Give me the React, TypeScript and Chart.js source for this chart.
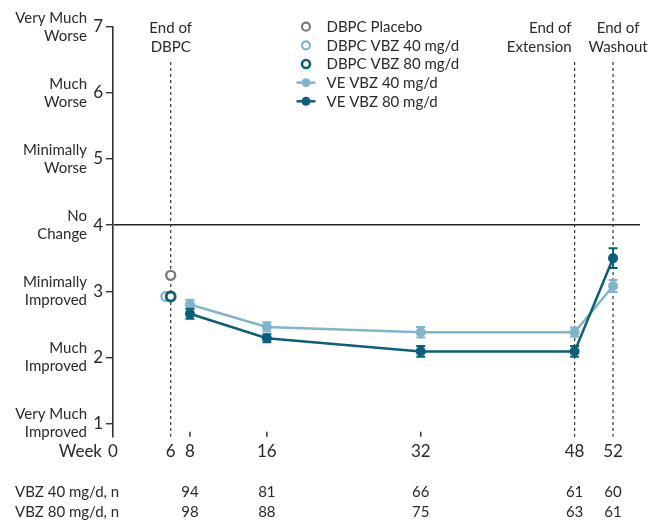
import React, { useEffect, useRef } from "react";
import { Chart, registerables } from "chart.js";

Chart.register(...registerables);

// ---- data ----
const xTickWeeks = [0, 6, 8, 16, 32, 48, 52];
const yTickValues = [1, 2, 3, 4, 5, 6, 7];
const yCategoryLabels = [
  ["Very Much", "Improved"],
  ["Much", "Improved"],
  ["Minimally", "Improved"],
  ["No", "Change"],
  ["Minimally", "Worse"],
  ["Much", "Worse"],
  ["Very Much", "Worse"],
];

const dbpcPlacebo = [{ x: 6, y: 3.24 }];
const dbpcVbz40 = [{ x: 5.5, y: 2.92 }];
const dbpcVbz80 = [{ x: 6, y: 2.92 }];

const veWeeks = [8, 16, 32, 48, 52];
const ve40 = [2.8, 2.46, 2.38, 2.38, 3.08];
const ve40Err = [0.07, 0.07, 0.08, 0.07, 0.09];
const ve80 = [2.66, 2.29, 2.09, 2.09, 3.5];
const ve80Err = [0.075, 0.06, 0.08, 0.08, 0.15];

const nWeeks = [8, 16, 32, 48, 52];
const nRowLabels = ["VBZ 40 mg/d, n", "VBZ 80 mg/d, n"];
const n40 = [94, 81, 66, 61, 60];
const n80 = [98, 88, 75, 63, 61];

const markerWeeks = [6, 48, 52];
const markerLabels = [
  ["End of", "DBPC"],
  ["End of", "Extension"],
  ["End of", "Washout"],
];

const seriesLabels = [
  "DBPC Placebo",
  "DBPC VBZ 40 mg/d",
  "DBPC VBZ 80 mg/d",
  "VE VBZ 40 mg/d",
  "VE VBZ 80 mg/d",
];

// ---- style ----
const FONT = "Lato";
const TEXT = "#2a2a2a";
const GRAY = "#7a7a7a";
const LIGHT = "#82b4cc";
const DARK = "#0c5f78";

const overlay = {
  id: "overlay",
  beforeDatasetsDraw(chart: any) {
    const { ctx, chartArea, scales } = chart;
    const xs = scales.x;
    ctx.save();
    ctx.strokeStyle = "#333";
    ctx.lineWidth = 1.2;
    ctx.setLineDash([3, 3]);
    markerWeeks.forEach((w) => {
      const px = xs.getPixelForValue(w);
      ctx.beginPath();
      ctx.moveTo(px, 62);
      ctx.lineTo(px, chartArea.bottom);
      ctx.stroke();
    });
    ctx.setLineDash([]);
    ctx.lineWidth = 1.5;
    xTickWeeks.forEach((w) => {
      if (w === 0 || markerWeeks.includes(w)) return;
      const px = xs.getPixelForValue(w);
      ctx.beginPath();
      ctx.moveTo(px, chartArea.bottom - 5);
      ctx.lineTo(px, chartArea.bottom);
      ctx.stroke();
    });
    ctx.restore();
  },
  afterDatasetsDraw(chart: any) {
    const { ctx, scales } = chart;
    const xs = scales.x;
    const ys = scales.y;
    ctx.save();
    const drawErr = (vals: number[], errs: number[], color: string) => {
      ctx.strokeStyle = color;
      ctx.lineWidth = 2;
      vals.forEach((v, i) => {
        const px = xs.getPixelForValue(veWeeks[i]);
        const top = ys.getPixelForValue(v + errs[i]);
        const bot = ys.getPixelForValue(v - errs[i]);
        ctx.beginPath();
        ctx.moveTo(px, top);
        ctx.lineTo(px, bot);
        ctx.moveTo(px - 4.5, top);
        ctx.lineTo(px + 4.5, top);
        ctx.moveTo(px - 4.5, bot);
        ctx.lineTo(px + 4.5, bot);
        ctx.stroke();
      });
    };
    drawErr(ve40, ve40Err, LIGHT);
    drawErr(ve80, ve80Err, DARK);
    ctx.restore();
  },
  afterDraw(chart: any) {
    const { ctx, scales } = chart;
    const xs = scales.x;
    ctx.save();
    ctx.fillStyle = TEXT;
    ctx.textBaseline = "middle";

    ctx.font = `15px ${FONT}`;
    const aligns: CanvasTextAlign[] = ["center", "right", "center"];
    const dxs = [0, -3, 5];
    markerLabels.forEach((lines, i) => {
      const px = xs.getPixelForValue(markerWeeks[i]) + dxs[i];
      ctx.textAlign = aligns[i];
      lines.forEach((t, j) => ctx.fillText(t, px, 28.5 + j * 19));
    });

    const colors = [GRAY, LIGHT, DARK, LIGHT, DARK];
    ctx.textAlign = "left";
    ctx.font = `15px ${FONT}`;
    seriesLabels.forEach((lab, i) => {
      const y = 26.7 + i * 18.65;
      const cx = 306;
      if (i < 3) {
        ctx.beginPath();
        ctx.arc(cx, y, 4, 0, Math.PI * 2);
        ctx.fillStyle = "#fff";
        ctx.fill();
        ctx.lineWidth = i === 2 ? 2.6 : 2.2;
        ctx.strokeStyle = colors[i];
        ctx.stroke();
      } else {
        ctx.strokeStyle = colors[i];
        ctx.lineWidth = 2.5;
        ctx.beginPath();
        ctx.moveTo(cx - 9.5, y);
        ctx.lineTo(cx + 9.5, y);
        ctx.stroke();
        ctx.beginPath();
        ctx.arc(cx, y, 4.5, 0, Math.PI * 2);
        ctx.fillStyle = colors[i];
        ctx.fill();
      }
      ctx.fillStyle = TEXT;
      ctx.fillText(lab, 326.5, y + 0.5);
    });

    ctx.font = `17px ${FONT}`;
    ctx.textAlign = "right";
    ctx.fillText("Week", xs.getPixelForValue(0) - 11, 452);

    ctx.font = `15px ${FONT}`;
    const rows = [n40, n80];
    rows.forEach((row, r) => {
      const y = 491.7 + r * 20;
      ctx.textAlign = "left";
      ctx.fillText(nRowLabels[r], 15, y);
      ctx.textAlign = "center";
      row.forEach((n, i) => ctx.fillText(String(n), xs.getPixelForValue(nWeeks[i]), y));
    });
    ctx.restore();
  },
};

export default function App() {
  const ref = useRef<HTMLCanvasElement | null>(null);

  useEffect(() => {
    if (!ref.current) return;
    const setTicks = (scale: any) => {
      scale.ticks = yTickValues.map((v) => ({ value: v }));
    };
    const chart = new Chart(ref.current, {
      type: "line",
      data: {
        datasets: [
          {
            label: seriesLabels[0],
            data: dbpcPlacebo,
            showLine: false,
            pointRadius: 4.5,
            pointBorderWidth: 2.4,
            pointBorderColor: GRAY,
            pointBackgroundColor: "#fff",
            borderColor: GRAY,
            order: 0,
          },
          {
            label: seriesLabels[1],
            data: dbpcVbz40,
            showLine: false,
            pointRadius: 4.5,
            pointBorderWidth: 2.4,
            pointBorderColor: LIGHT,
            pointBackgroundColor: "#fff",
            borderColor: LIGHT,
            order: 1,
          },
          {
            label: seriesLabels[2],
            data: dbpcVbz80,
            showLine: false,
            pointRadius: 4.5,
            pointBorderWidth: 2.8,
            pointBorderColor: DARK,
            pointBackgroundColor: "#fff",
            borderColor: DARK,
            order: 0,
          },
          {
            label: seriesLabels[3],
            data: veWeeks.map((w, i) => ({ x: w, y: ve40[i] })),
            borderColor: LIGHT,
            borderWidth: 2.5,
            pointRadius: 5,
            pointBackgroundColor: LIGHT,
            pointBorderColor: LIGHT,
            pointBorderWidth: 0,
            order: 3,
          },
          {
            label: seriesLabels[4],
            data: veWeeks.map((w, i) => ({ x: w, y: ve80[i] })),
            borderColor: DARK,
            borderWidth: 2.5,
            pointRadius: 5,
            pointBackgroundColor: DARK,
            pointBorderColor: DARK,
            pointBorderWidth: 0,
            order: 2,
          },
        ],
      },
      options: {
        animation: false,
        responsive: true,
        maintainAspectRatio: false,
        layout: { padding: { top: 26.7, right: 16, left: 0, bottom: 0 } },
        plugins: { legend: { display: false }, tooltip: { enabled: false } },
        scales: {
          x: {
            type: "linear",
            min: 0,
            max: 54.8,
            afterBuildTicks: (scale: any) => {
              scale.ticks = xTickWeeks.map((v) => ({ value: v }));
            },
            afterFit: (scale: any) => {
              scale.height = 85.3;
            },
            grid: { display: false, drawTicks: false, tickLength: 0 },
            border: { display: false },
            ticks: {
              color: TEXT,
              font: { family: FONT, size: 17 },
              padding: 5,
              maxRotation: 0,
              autoSkip: false,
            },
          },
          y: {
            type: "linear",
            position: "left",
            weight: 0,
            min: 0.8,
            max: 7,
            afterBuildTicks: setTicks,
            afterFit: (scale: any) => {
              scale.width = 25;
            },
            border: { display: true, color: "#333", width: 1.6 },
            grid: {
              drawOnChartArea: true,
              drawTicks: true,
              tickLength: 7,
              tickColor: "#333",
              tickWidth: 1.4,
              lineWidth: 1.4,
              color: (c: any) => (c.tick && c.tick.value === 4 ? "#222" : "rgba(0,0,0,0)"),
            },
            ticks: {
              color: TEXT,
              font: { family: FONT, size: 17 },
              padding: 3,
            },
          },
          yText: {
            type: "linear",
            position: "left",
            weight: 1,
            min: 0.8,
            max: 7,
            afterBuildTicks: setTicks,
            afterFit: (scale: any) => {
              scale.width = 88;
            },
            border: { display: false },
            grid: { display: false, drawTicks: false, tickLength: 0 },
            ticks: {
              color: TEXT,
              font: { family: FONT, size: 15, lineHeight: 1.2 },
              padding: 1,
              callback: (v: any) => {
                const idx = yTickValues.indexOf(Number(v));
                return idx >= 0 ? yCategoryLabels[idx] : "";
              },
            },
          },
        },
      },
      plugins: [overlay],
    } as any);
    return () => chart.destroy();
  }, []);

  return (
    <div style={{ position: "fixed", left: 0, top: 0, width: 656, height: 522, background: "#fff" }}>
      <canvas ref={ref} />
    </div>
  );
}
